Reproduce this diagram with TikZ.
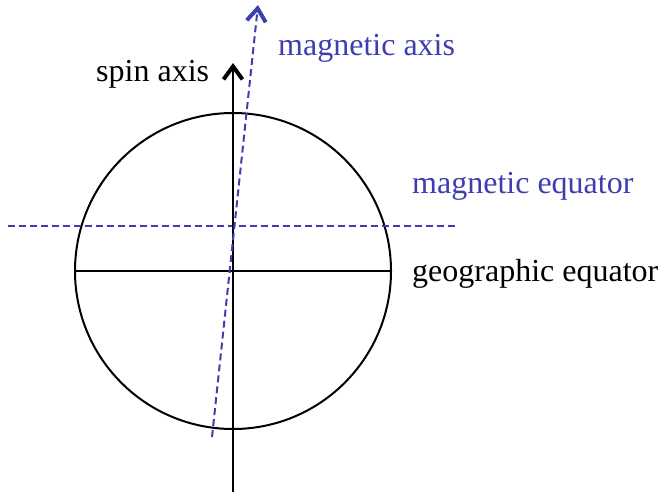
\documentclass[tikz,border=0pt]{standalone}
\usepackage{fontspec}
\setmainfont{Liberation Serif}
\usetikzlibrary{arrows.meta, positioning}
\definecolor{magblue}{RGB}{62,62,176}
\tikzset{
    label/.style={font=\fontsize{32}{38}\selectfont, inner sep=0pt},
    maglabel/.style={label, text=magblue},
    axis/.style={line width=2pt, black},
    magline/.style={line width=2pt, magblue, dash pattern=on 7pt off 4pt},
    barb/.style={-{Straight Barb[length=13pt, width=19pt, line width=4pt, line join=miter]}}
}
\begin{document}
\begin{tikzpicture}[x=1pt, y=-1pt]
    \useasboundingbox (0,0) rectangle (663,496);
    % earth and equators
    \coordinate (centre) at (233,271);
    \draw [axis] (centre) circle [radius=158];
    \coordinate (geo_w) at (75,271);
    \coordinate (geo_e) at (391,271);
    \draw [axis] (geo_w) -- (geo_e);
    \coordinate (mageq_w) at (8,226);
    \coordinate (mageq_e) at (458,226);
    \draw [magline] (mageq_w) -- (mageq_e);

    % axes
    \coordinate (spin_s) at (233,492);
    \coordinate (spin_n) at (233,63);
    \draw [axis, barb] (spin_s) -- (spin_n);
    \coordinate (mag_s) at (212,437);
    \coordinate (mag_n) at (258,5);
    \draw [magline, barb] (mag_s) -- (mag_n);

    % labels
    \node (spin) [label, anchor=base west] at (96,81) {spin axis};
    \node (magaxis) [maglabel, anchor=base west] at (278,55) {magnetic axis};
    \node (mageq) [maglabel, anchor=base west] at (412,193) {magnetic equator};
    \node (geoeq) [label, anchor=base west] at (412,281) {geographic equator};
\end{tikzpicture}
\end{document}
